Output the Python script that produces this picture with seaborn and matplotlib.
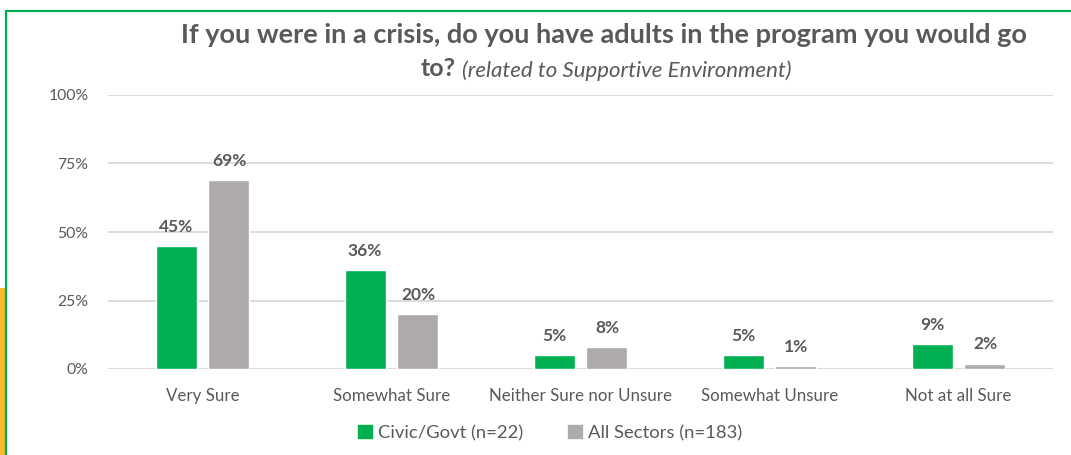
import matplotlib
matplotlib.use("Agg")
import matplotlib.pyplot as plt
import seaborn as sns
import pandas as pd
from matplotlib.patches import Rectangle
from matplotlib.lines import Line2D

categories = ["Very Sure", "Somewhat Sure", "Neither Sure nor Unsure", "Somewhat Unsure", "Not at all Sure"]
civic_govt = [45, 36, 5, 5, 9]
all_sectors = [69, 20, 8, 1, 2]
series_names = ["Civic/Govt (n=22)", "All Sectors (n=183)"]
ytick_values = [0, 25, 50, 75, 100]

GREEN = "#00B050"
GRAY = "#AEAAAA"
TEXT = "#595959"
GRID = "#D9D9D9"

sns.set_theme(style="white")
plt.rcParams["font.family"] = ["Lato", "DejaVu Sans"]

df = pd.DataFrame({
    "category": categories * 2,
    "value": civic_govt + all_sectors,
    "series": [series_names[0]] * len(categories) + [series_names[1]] * len(categories),
})

W, H = 1071, 455
fig = plt.figure(figsize=(W / 100, H / 100), dpi=100)
ax = fig.add_axes([108 / W, 1 - 369 / H, (1053 - 108) / W, (369 - 95) / H])

sns.barplot(data=df, x="category", y="value", hue="series",
            palette=[GREEN, GRAY], width=0.56, gap=0.225,
            saturation=1, ax=ax, legend=False)

ax.set_ylim(0, 100)
ax.set_xlim(-0.5, len(categories) - 0.5)
ax.set_yticks(ytick_values)
ax.set_yticklabels([f"{v}%" for v in ytick_values])
ax.yaxis.grid(True, color=GRID, linewidth=1.3)
ax.set_axisbelow(True)
for s in ax.spines.values():
    s.set_visible(False)
ax.tick_params(axis="both", length=0, colors=TEXT)
ax.tick_params(axis="y", pad=14, labelsize=11.3)
ax.tick_params(axis="x", pad=14, labelsize=12.2)
ax.set_xlabel("")
ax.set_ylabel("")

for cont in ax.containers:
    ax.bar_label(cont, labels=[f"{v:.0f}%" for v in cont.datavalues],
                 padding=8, fontsize=12.5, fontweight="bold", color=TEXT)

# Title in two lines: bold question, italic note on the second line
fig.text(604 / W, 1 - 35 / H, "If you were in a crisis, do you have adults in the program you would go",
         ha="center", va="center", fontsize=19.5, fontweight="bold", color=TEXT)
fig.text(456 / W, 1 - 69 / H, "to?", ha="right", va="center",
         fontsize=18, fontweight="bold", color=TEXT)
fig.text(462 / W, 1 - 71 / H, "(related to Supportive Environment)", ha="left", va="center",
         fontsize=16, fontstyle="italic", color=TEXT)

handles = [Rectangle((0, 0), 1, 1, color=GREEN), Rectangle((0, 0), 1, 1, color=GRAY)]
fig.legend(handles, series_names, loc="center", bbox_to_anchor=(550 / W, 1 - 433 / H),
           ncol=2, frameon=False, fontsize=13.3, handlelength=0.75, handleheight=0.75,
           handletextpad=0.35, columnspacing=2.4, labelcolor=TEXT)

# Frame accents
fig.add_artist(Rectangle((0, 0), 5 / W, 1 - 288 / H, transform=fig.transFigure,
                         color="#FBBA2B", linewidth=0))
fig.add_artist(Line2D([6 / W, 6 / W], [0, 1 - 11 / H], transform=fig.transFigure,
                      color=GREEN, linewidth=1.6))
fig.add_artist(Line2D([6 / W, 1], [1 - 11 / H, 1 - 11 / H], transform=fig.transFigure,
                      color=GREEN, linewidth=1.6))

fig.savefig("out.png", dpi=100)
